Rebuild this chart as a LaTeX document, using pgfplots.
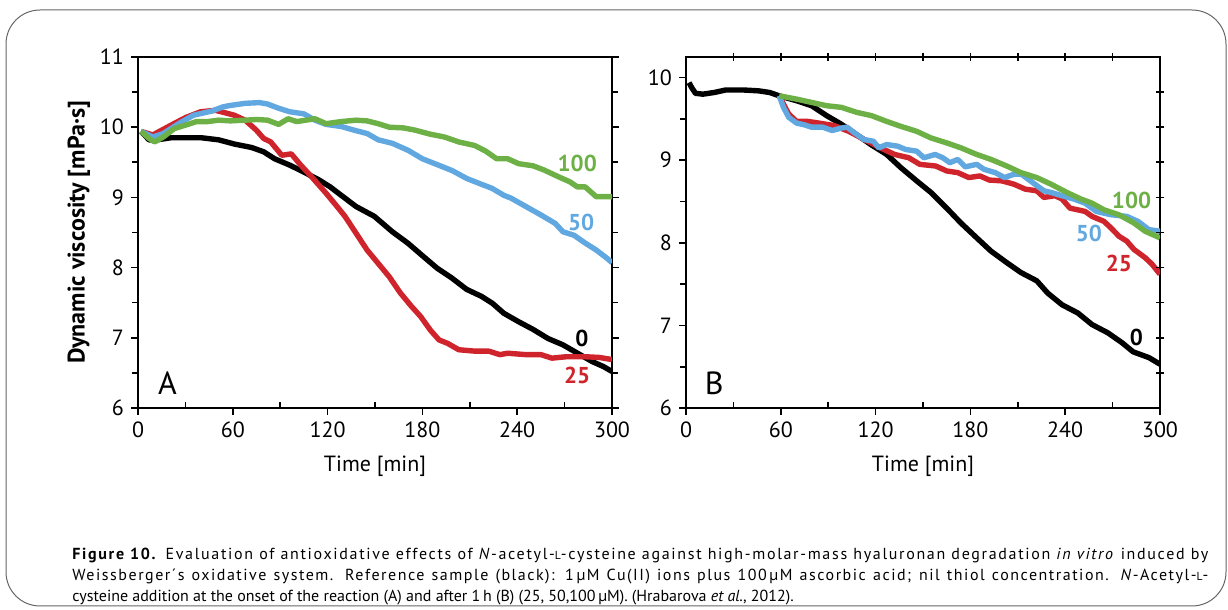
\documentclass[border=0pt]{standalone}
\usepackage{pgfplots}
\pgfplotsset{compat=1.18}
\usepackage{fontspec}
\setmainfont{PT Sans}

\definecolor{cblack}{RGB}{0,0,0}
\definecolor{cred}{RGB}{208,36,44}
\definecolor{cblue}{RGB}{98,168,224}
\definecolor{cgreen}{RGB}{108,176,70}
\newcommand\Lsc{{\fontsize{5.8}{6}\selectfont L}}

\pgfplotsset{
  panel/.style={
    scale only axis, width=237pt, height=175.5pt, anchor=south west,
    xmin=0, xmax=300, xtick={0,60,...,300}, minor x tick num=1,
    xtick pos=left, minor x tick style={yshift=3pt},
    tick align=outside, major tick length=3.5pt, minor tick length=3pt,
    axis line style={line width=0.9pt}, every tick/.style={line width=0.8pt, black},
    ticklabel style={font=\fontsize{11}{13}\selectfont},
    /pgf/number format/assume math mode=true,
    xlabel={Time [min]}, xlabel style={font=\fontsize{11}{13}\selectfont, yshift=-2pt},
    every axis plot/.append style={line width=2.7pt, line join=round},
  },
}

\begin{document}
\begin{tikzpicture}
\useasboundingbox (0,0) rectangle (614pt,305pt);
\draw[gray!80!black, line width=0.5pt, rounded corners=17pt] (3pt,2pt) rectangle (613pt,300pt);

% ---------------- panel A
\begin{axis}[panel, at={(69pt,101pt)},
    ymin=6, ymax=11, ytick={6,...,11}, minor y tick num=1, ytick pos=both,
    ylabel={\bfseries Dynamic viscosity [mPa·s]},
    ylabel style={font=\fontsize{12}{14}\selectfont, yshift=-2pt},
]
\addplot[cblack] coordinates {
(1.9,9.94) (7,9.82) (12,9.82) (21,9.85) (40,9.85) (51,9.82) (61,9.76) (72,9.71) (79.5,9.65)
(86.5,9.55) (96,9.46) (105,9.36) (114.5,9.25) (121.6,9.15) (128.6,9.03) (138,8.87) (149.6,8.73)
(161,8.51) (170.7,8.35) (180,8.17) (189.4,7.99) (198.7,7.85) (208,7.69) (217.4,7.59) (224.4,7.49)
(231.5,7.35) (240.8,7.23) (250,7.12) (259.5,6.99) (268.9,6.90) (278.2,6.78) (287.6,6.66)
(294.6,6.59) (300,6.52)
};
\addplot[cred] coordinates {
(1.9,9.94) (9.4,9.89) (21,10.03) (30.4,10.14) (39.7,10.22) (49,10.24) (56,10.20) (61,10.17)
(67.8,10.10) (74.8,9.96) (79.5,9.84) (84,9.79) (91,9.60) (97,9.62) (103,9.46) (110,9.29)
(119,9.06) (126,8.87) (131,8.73) (138,8.49) (145,8.25) (152,8.06) (159,7.87) (166,7.64)
(173,7.45) (179,7.30) (185,7.11) (190.5,6.97) (196,6.92) (203,6.83) (213,6.81) (222,6.81)
(229,6.76) (234,6.78) (245.5,6.76) (255,6.76) (262,6.71) (271,6.73) (283,6.73) (292,6.72)
(300,6.69)
};
\addplot[cblue] coordinates {
(1.9,9.94) (9.4,9.86) (16,9.91) (25.7,10.05) (35,10.17) (46.8,10.23) (53.8,10.29) (58.5,10.31)
(67.8,10.34) (77,10.35) (82,10.33) (89,10.27) (96,10.22) (105,10.19) (112,10.10) (119,10.04)
(128.6,10.01) (138,9.95) (145,9.91) (152,9.82) (161,9.77) (171,9.67) (180,9.55) (189,9.47)
(199,9.38) (208,9.27) (217,9.19) (224,9.13) (231.5,9.03) (236,8.99) (245.5,8.87) (255,8.75)
(264,8.63) (269,8.51) (276,8.46) (283,8.35) (290,8.25) (297,8.13) (300,8.07)
};
\addplot[cgreen] coordinates {
(1.9,9.94) (7,9.84) (10.5,9.79) (16,9.86) (23,9.98) (33,10.05) (37,10.08) (44,10.08) (51,10.10)
(58.5,10.09) (68,10.10) (75,10.11) (82,10.10) (89,10.04) (95,10.12) (100.5,10.08) (112,10.12)
(119,10.05) (128.6,10.08) (138,10.10) (145,10.09) (152,10.05) (159,10.00) (168,9.99) (175,9.96)
(185,9.90) (194,9.86) (203,9.79) (213,9.74) (220,9.66) (227,9.55) (234,9.55) (241,9.48)
(250,9.45) (257,9.39) (266.5,9.29) (273.5,9.22) (278,9.15) (283,9.15) (290,9.01) (294.6,9.01)
(300,9.01)
};
\node[font=\fontsize{11.5}{13}\selectfont\bfseries, text=cgreen] at (axis cs:278,9.48) {100};
\node[font=\fontsize{11.5}{13}\selectfont\bfseries, text=cblue] at (axis cs:280.5,8.64) {50};
\node[font=\fontsize{11.5}{13}\selectfont\bfseries, text=cblack] at (axis cs:281,6.99) {0};
\node[font=\fontsize{11.5}{13}\selectfont\bfseries, text=cred] at (axis cs:278,6.47) {25};
\node[font=\fontsize{16}{18}\selectfont] at (axis cs:18.7,6.36) {A};
\end{axis}

% ---------------- panel B
\begin{axis}[panel, at={(343pt,101pt)},
    ymin=6, ymax=10.25, ytick={6,...,10}, minor ytick={6.5,7.5,8.5,9.5}, ytick pos=left,
]
\addplot[cblack] coordinates {
(1.9,9.94) (3.6,9.88) (6,9.81) (10.7,9.80) (17.8,9.82) (25,9.85) (36.8,9.85) (46,9.84) (53,9.82)
(59,9.78) (70,9.72) (79.5,9.66) (89,9.54) (98,9.44) (108,9.31) (117,9.19) (127,9.07) (136,8.91)
(146,8.75) (155,8.61) (165,8.42) (174,8.24) (184,8.06) (193,7.90) (203,7.76) (212,7.64)
(222,7.54) (229,7.39) (238,7.25) (248,7.15) (257,7.01) (267,6.91) (276,6.79) (283,6.68)
(293,6.61) (300,6.53)
};
\addplot[cred] coordinates {
(59,9.78) (61.7,9.68) (65,9.56) (70,9.47) (77,9.47) (84,9.45) (93.7,9.42) (103,9.35) (113,9.25)
(122,9.16) (132,9.07) (141,9.03) (148,8.95) (158,8.93) (165,8.87) (172,8.85) (179,8.79)
(186,8.81) (192,8.76) (200,8.75) (207.5,8.71) (214.7,8.65) (222,8.63) (226.5,8.55) (233.6,8.57)
(238,8.53) (243,8.42) (252.6,8.38) (257,8.32) (264.5,8.26) (269,8.18) (274,8.08) (279,8.02)
(283.5,7.92) (290.6,7.82) (295,7.74) (300,7.62)
};
\addplot[cblue] coordinates {
(59,9.78) (61.7,9.64) (65,9.52) (70,9.45) (74.7,9.43) (79.5,9.40) (86.6,9.40) (92.5,9.36)
(98.4,9.39) (102,9.40) (106.7,9.33) (112.7,9.25) (118.6,9.23) (122,9.15) (127,9.19) (134,9.17)
(139,9.13) (146,9.11) (150.6,9.03) (157.7,9.07) (162.5,9.03) (167,8.97) (172,9.01) (176.7,8.92)
(184,8.95) (188.6,8.89) (195.7,8.85) (201.6,8.79) (207.5,8.83) (212.3,8.83) (219.4,8.73)
(226.5,8.63) (231,8.61) (238,8.57) (245.5,8.53) (252.6,8.48) (259.7,8.38) (269,8.34) (279,8.32)
(286,8.26) (293,8.16) (300,8.14)
};
\addplot[cgreen] coordinates {
(59,9.78) (70,9.74) (79.5,9.70) (89,9.66) (98.4,9.64) (108,9.58) (117.4,9.54) (127,9.47)
(136,9.41) (146,9.35) (155,9.27) (165,9.21) (174,9.15) (184,9.07) (193,9.01) (203,8.93)
(212,8.85) (222,8.79) (231,8.71) (241,8.61) (250,8.53) (257,8.48) (264.5,8.40) (274,8.34)
(283.5,8.24) (290.6,8.14) (300,8.06)
};
\node[font=\fontsize{11.5}{13}\selectfont\bfseries, text=cgreen] at (axis cs:282,8.51) {100};
\node[font=\fontsize{11.5}{13}\selectfont\bfseries, text=cblue] at (axis cs:255,8.11) {50};
\node[font=\fontsize{11.5}{13}\selectfont\bfseries, text=cred] at (axis cs:274,7.75) {25};
\node[font=\fontsize{11.5}{13}\selectfont\bfseries, text=cblack] at (axis cs:285,6.86) {0};
\node[font=\fontsize{16}{18}\selectfont] at (axis cs:17.8,6.30) {B};
\end{axis}

% right and top ticks of panel B
\begin{axis}[scale only axis, width=237pt, height=175.5pt, anchor=south west, at={(343pt,101pt)},
    xmin=0, xmax=300, ymin=6, ymax=11, axis line style={draw=none},
    xtick={30,60,...,270}, xtick pos=right, xticklabels={},
    ytick={6.5,7,...,10.5}, ytick pos=right, yticklabels={},
    tick align=center, major tick length=4pt, every tick/.style={line width=0.8pt, black},
]
\end{axis}

\node[anchor=north west, inner sep=0pt, align=left,
      font=\fontsize{8}{10.5}\selectfont] at (36pt,31pt) {%
\makebox[568pt][s]{\addfontfeature{LetterSpace=10.5}\textbf{Figure 10.} Evaluation of antioxidative effects of \textit{N}-acetyl-\Lsc-cysteine against high-molar-mass hyaluronan degradation \textit{in vitro} induced by}\\
\makebox[568pt][s]{\addfontfeature{LetterSpace=9.5}Weissberger´s oxidative system. Reference sample (black): 1\,µM Cu(II) ions plus 100\,µM ascorbic acid; nil thiol concentration. \textit{N}-Acetyl-\Lsc-}\\
cysteine addition at the onset of the reaction (A) and after 1\,h (B) (25, 50,100\,µM). (Hrabarova \textit{et al.}, 2012).};
\end{tikzpicture}
\end{document}
